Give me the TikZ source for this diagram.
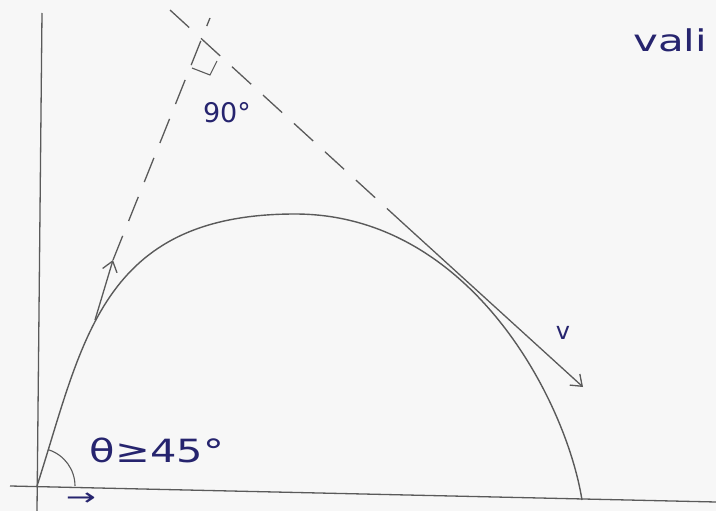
\documentclass[tikz,border=0pt]{standalone}
\usepackage{fontspec}
\setmainfont{DejaVu Sans}
\usetikzlibrary{arrows.meta}
\definecolor{ink}{HTML}{26246E}
\definecolor{pencil}{HTML}{5A5A5A}

\begin{document}
\begin{tikzpicture}[
x=1pt, y=-1pt,
axis/.style={draw=pencil, line width=1.3pt},
path/.style={draw=pencil, line width=1.4pt},
guide/.style={draw=pencil, line width=1.3pt, dash pattern=on 26pt off 16pt},
vec/.style={draw=pencil, line width=1.3pt, -{Straight Barb[length=10pt,width=15pt]}},
lbl/.style={text=ink, inner sep=0pt}
]
\fill[white!97!black] (0,0) rectangle (716,511);
\useasboundingbox (0,0) rectangle (716,511);

% axes
\coordinate (O) at (37,486);
\coordinate (gl) at (10,486);
\coordinate (gr) at (716,502);
\coordinate (yt) at (42,13);
\coordinate (yb) at (37,511);
\draw[axis] (gl) -- (gr);
\draw[axis] (yt) -- (yb);

% trajectory
\coordinate (top) at (295,214);
\coordinate (land) at (582,500);
\draw[path] (O) .. controls (83,343) and (100,214) .. (top)
  .. controls (470,214) and (566,400) .. (land);

% launch and landing velocities
\coordinate (a1s) at (95,320);
\coordinate (a1t) at (113,260);
\coordinate (d1e) at (210,18);
\coordinate (d2s) at (170,10);
\coordinate (d2e) at (405,225);
\coordinate (a2t) at (583,387);
\draw[vec] (a1s) -- (a1t);
\draw[guide] (a1t) -- (d1e);
\draw[guide] (d2s) -- (d2e);
\draw[vec] (d2e) -- (a2t);
\draw[axis, line width=1.1pt] (192,68) -- (210,75) -- (217,61);

% angle at launch
\draw[axis, line width=1.1pt] (O) ++(38,0) arc[start angle=0, end angle=-72, radius=38];

% labels
\node[lbl, font=\fontsize{27}{30}\selectfont] (ninety) at (227,113) {90°};
\node[lbl, font=\fontsize{24}{26}\selectfont] (vlbl) at (563,333) {v};
\node[lbl, font=\fontsize{32}{34}\selectfont, xscale=1.3] (theta) at (157,450) {θ≥45°};
\node[lbl, font=\fontsize{30}{32}\selectfont, anchor=base west, xscale=1.4] (vali) at (633,52) {vali};
\node[lbl, font=\fontsize{24}{26}\selectfont, xscale=1.5] (dir) at (81,499) {→};
\end{tikzpicture}
\end{document}
